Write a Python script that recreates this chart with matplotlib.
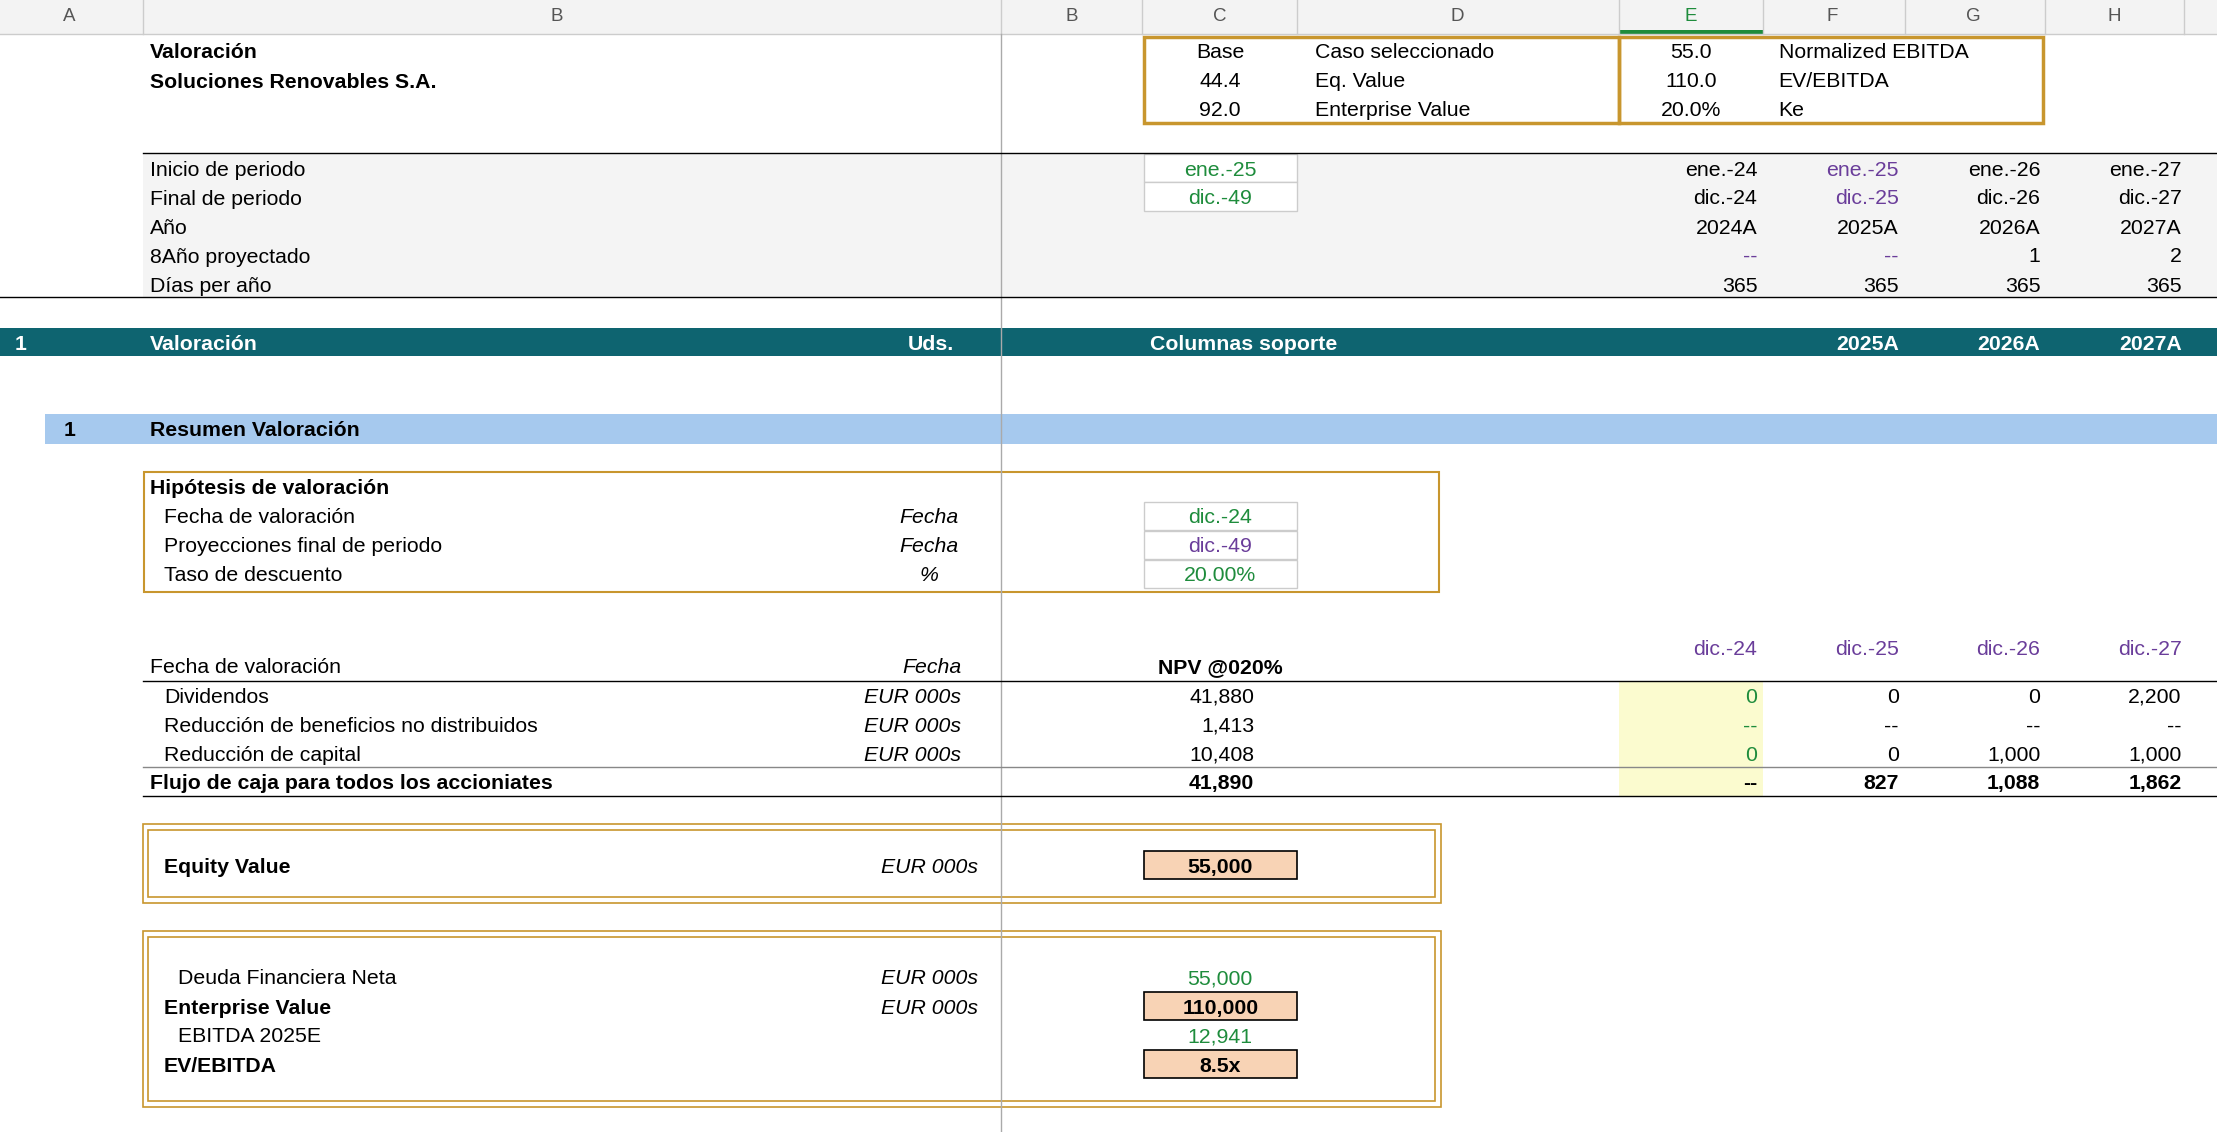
import matplotlib
matplotlib.use("Agg")
import matplotlib.pyplot as plt
from matplotlib.patches import Rectangle

col_letters = ["A", "B", "B", "C", "D", "E", "F", "G", "H"]
col_letter_x = [49, 394, 758, 863, 1031, 1196, 1296, 1396, 1495]
period_start = ["ene.-24", "ene.-25", "ene.-26", "ene.-27"]
period_end = ["dic.-24", "dic.-25", "dic.-26", "dic.-27"]
years = ["2024A", "2025A", "2026A", "2027A"]
proj_year = ["--", "--", "1", "2"]
days = ["365", "365", "365", "365"]
band_years = ["2025A", "2026A", "2027A"]
val_dates = ["dic.-24", "dic.-25", "dic.-26", "dic.-27"]
dividendos = ["0", "0", "0", "2,200"]
reduccion_benef = ["--", "--", "--", "--"]
reduccion_cap = ["0", "0", "1,000", "1,000"]
flujo = ["--", "827", "1,088", "1,862"]
npv = ["41,880", "1,413", "10,408", "41,890"]
equity_value = "55,000"
deuda = "55,000"
ev = "110,000"
ebitda = "12,941"
ev_ebitda = "8.5x"
summary_left = ["Base", "44.4", "92.0"]
summary_left_lbl = ["Caso seleccionado", "Eq. Value", "Enterprise Value"]
summary_right = ["55.0", "110.0", "20.0%"]
summary_right_lbl = ["Normalized EBITDA", "EV/EBITDA", "Ke"]

GREEN = "#1e8c3c"; PURPLE = "#6a3d9a"; GOLD = "#c8962e"; TEAL = "#0e6470"
LBLUE = "#a6c9ee"; PEACH = "#f8d3b5"; YEL = "#fbfbcf"
FS = 15.3

fig = plt.figure(figsize=(22.17, 11.32), dpi=100)
ax = fig.add_axes([0, 0, 1, 1])
ax.set_xlim(0, 1568); ax.set_ylim(801, 0); ax.axis("off")

def t(x, y, s, ha="left", c="black", b=False, i=False, fs=FS):
    ax.text(x, y + 1.5, s, ha=ha, va="center", color=c, fontsize=fs,
            fontweight="bold" if b else "normal", style="italic" if i else "normal",
            family="Liberation Sans")

def rect(x0, y0, x1, y1, fc="none", ec="none", lw=1, z=0):
    ax.add_patch(Rectangle((x0, y0), x1 - x0, y1 - y0, facecolor=fc, edgecolor=ec, lw=lw, zorder=z))

def hline(y, x0=0, x1=1568, c="black", lw=1):
    ax.plot([x0, x1], [y, y], color=c, lw=lw)

# header
rect(0, 0, 1568, 24, fc="#f3f3f3")
for x in [101, 708, 808, 917, 1145, 1247, 1347, 1446, 1545]:
    ax.plot([x, x], [0, 24], color="#cccccc", lw=1)
rect(1145, 21, 1247, 24, fc="#1e8c3c")
for s, x in zip(col_letters, col_letter_x):
    t(x, 10, s, ha="center", c=GREEN if s == "E" and x == 1196 else "#555555", fs=13.5)
hline(24, c="#cccccc")
ax.plot([708, 708], [24, 801], color="#aaaaaa", lw=1)

t(106, 36, "Valoración", b=True)
t(106, 57, "Soluciones Renovables S.A.", b=True)
rect(809, 26, 1145, 87, ec=GOLD, lw=2.5)
rect(1145, 26, 1445, 87, ec=GOLD, lw=2.5)
for k in range(3):
    y = 36 + 20.5 * k
    t(863, y, summary_left[k], ha="center"); t(930, y, summary_left_lbl[k])
    t(1196, y, summary_right[k], ha="center"); t(1258, y, summary_right_lbl[k])

rect(101, 108, 1568, 210, fc="#f4f4f4")
hline(108, 101); hline(210)
rows = ["Inicio de periodo", "Final de periodo", "Año", "8Año proyectado", "Días per año"]
for k, s in enumerate(rows):
    t(106, 119 + 20.5 * k, s)
rect(809, 109, 917, 129, fc="white", ec="#cccccc"); rect(809, 129, 917, 149, fc="white", ec="#cccccc")
t(863, 119, "ene.-25", ha="center", c=GREEN); t(863, 139, "dic.-49", ha="center", c=GREEN)
xs = [1243, 1343, 1443, 1543]
for j in range(4):
    pc = PURPLE if j == 1 else "black"
    t(xs[j], 119, period_start[j], ha="right", c=pc)
    t(xs[j], 139, period_end[j], ha="right", c=pc)
    t(xs[j], 160, years[j], ha="right")
    t(xs[j], 180, proj_year[j], ha="right", c=PURPLE if proj_year[j] == "--" else "black")
    t(xs[j], 201, days[j], ha="right")

rect(0, 232, 1568, 252, fc=TEAL)
t(10, 242, "1", c="white", b=True); t(106, 242, "Valoración", c="white", b=True)
t(675, 242, "Uds.", ha="right", c="white", b=True)
t(813, 242, "Columnas soporte", c="white", b=True)
for j, s in enumerate(band_years):
    t(xs[j + 1], 242, s, ha="right", c="white", b=True)

rect(32, 293, 1568, 314, fc=LBLUE)
t(45, 303, "1", b=True); t(106, 303, "Resumen Valoración", b=True)

rect(102, 334, 1018, 419, ec=GOLD, lw=1.5)
t(106, 344, "Hipótesis de valoración", b=True)
hyp = [("Fecha de valoración", "Fecha", "dic.-24", GREEN),
       ("Proyecciones final de periodo", "Fecha", "dic.-49", PURPLE),
       ("Taso de descuento", "%", "20.00%", GREEN)]
for k, (a, u, v, c) in enumerate(hyp):
    y = 365 + 20.5 * k
    t(116, y, a); t(657, y, u, ha="center", i=True)
    rect(809, y - 10, 917, y + 10, fc="white", ec="#cccccc")
    t(863, y, v, ha="center", c=c)

t(106, 471, "Fecha de valoración"); t(680, 471, "Fecha", ha="right", i=True)
t(863, 471, "NPV @020%", ha="center", b=True)
for j in range(4):
    t(xs[j], 458, val_dates[j], ha="right", c=PURPLE)
hline(482, 101)
rect(1145, 482, 1247, 563, fc=YEL)
lines = [("Dividendos", dividendos), ("Reducción de beneficios no distribuidos", reduccion_benef),
         ("Reducción de capital", reduccion_cap)]
for k, (a, vals) in enumerate(lines):
    y = 492 + 20.5 * k
    t(116, y, a); t(680, y, "EUR 000s", ha="right", i=True)
    t(887, y, npv[k], ha="right")
    for j in range(4):
        t(xs[j], y, vals[j], ha="right", c=GREEN if j == 0 else "black")
hline(543, 101, c="#888888")
t(106, 553, "Flujo de caja para todos los accioniates", b=True)
t(887, 553, npv[3], ha="right", b=True)
for j in range(4):
    t(xs[j], 553, flujo[j], ha="right", b=True)
hline(563, 101)

for (y0, y1) in [(583, 639), (659, 783)]:
    rect(101, y0, 1019, y1, ec=GOLD, lw=1.2)
    rect(105, y0 + 4, 1015, y1 - 4, ec=GOLD, lw=1.2)
t(116, 612, "Equity Value", b=True); t(692, 612, "EUR 000s", ha="right", i=True)
rect(809, 602, 917, 622, fc=PEACH, ec="black", lw=1.2)
t(863, 612, equity_value, ha="center", b=True)

t(126, 691, "Deuda Financiera Neta"); t(692, 691, "EUR 000s", ha="right", i=True)
t(863, 691, deuda, ha="center", c=GREEN)
t(116, 712, "Enterprise Value", b=True); t(692, 712, "EUR 000s", ha="right", i=True)
rect(809, 702, 917, 722, fc=PEACH, ec="black", lw=1.2)
t(863, 712, ev, ha="center", b=True)
t(126, 732, "EBITDA 2025E"); t(863, 732, ebitda, ha="center", c=GREEN)
t(116, 753, "EV/EBITDA", b=True)
rect(809, 743, 917, 763, fc=PEACH, ec="black", lw=1.2)
t(863, 753, ev_ebitda, ha="center", b=True)

fig.savefig("out.png", dpi=100)
